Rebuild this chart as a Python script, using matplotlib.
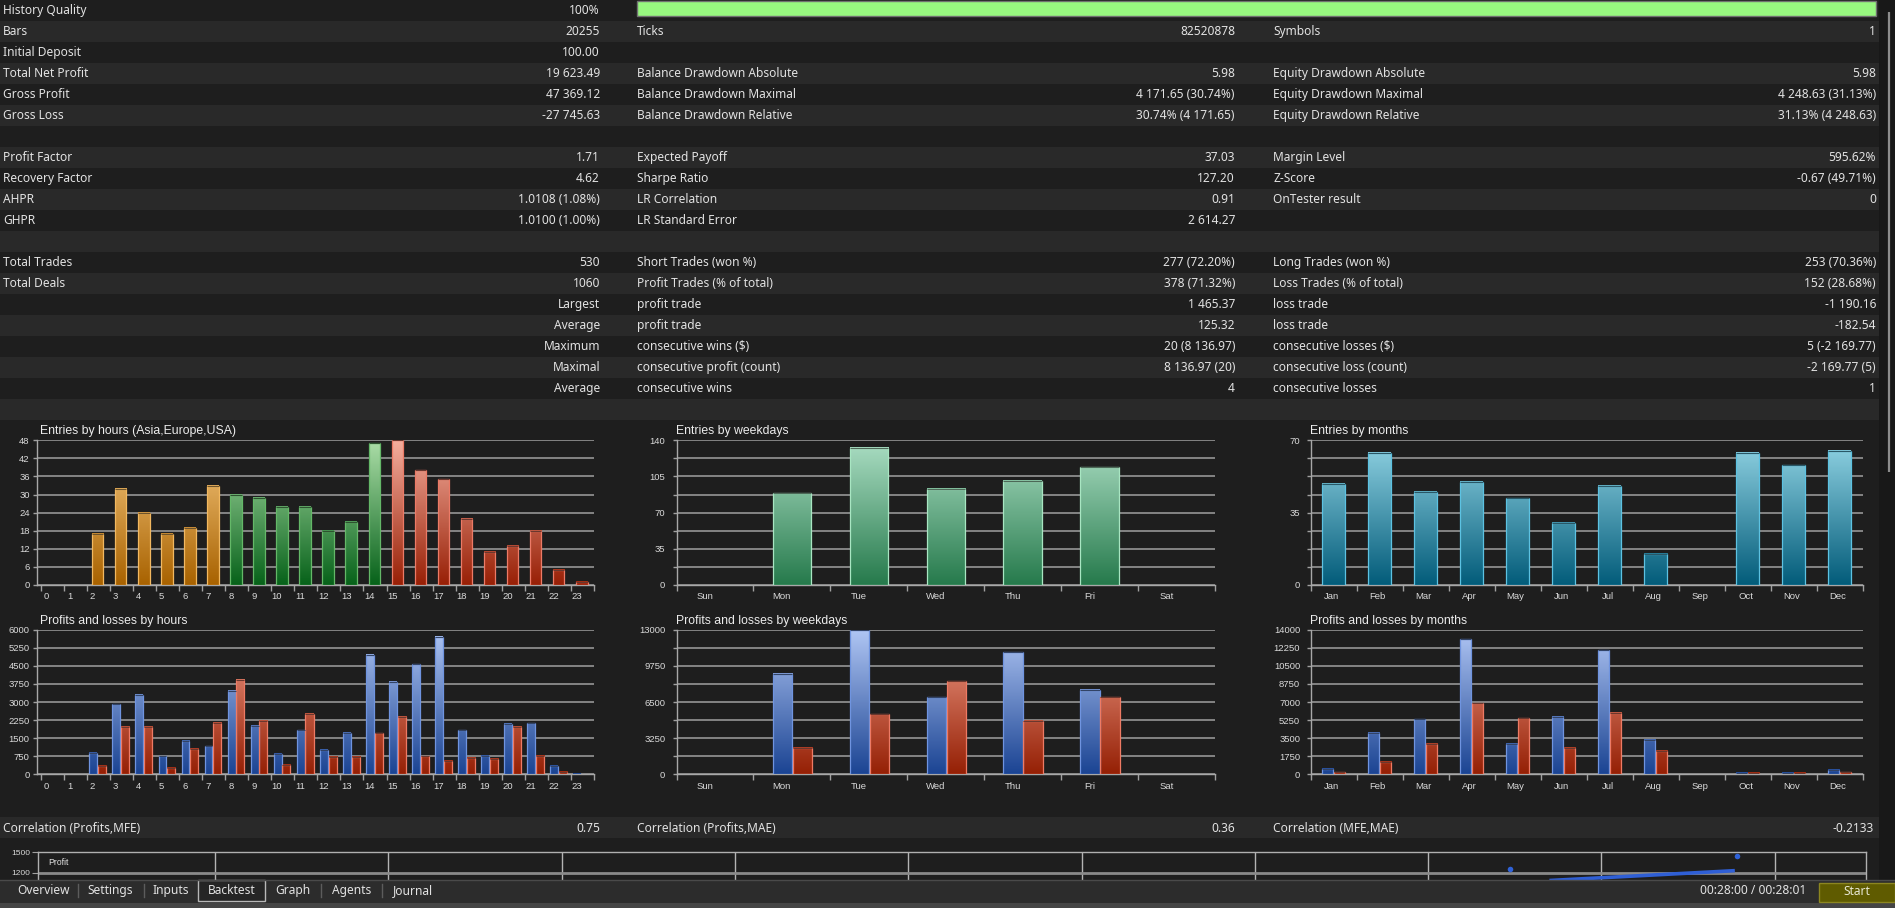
import numpy as np
import matplotlib
matplotlib.use("Agg")
import matplotlib.pyplot as plt
from matplotlib.colors import LinearSegmentedColormap, to_rgb
from matplotlib.patches import Rectangle

W, H = 1895, 908

# report table: three label/value columns, one entry per row
col1_labels = ["History Quality", "Bars", "Initial Deposit", "Total Net Profit", "Gross Profit",
               "Gross Loss", "", "Profit Factor", "Recovery Factor", "AHPR", "GHPR", "",
               "Total Trades", "Total Deals", "", "", "", "", ""]
col1_values = ["100%", "20255", "100.00", "19 623.49", "47 369.12", "-27 745.63", "", "1.71",
               "4.62", "1.0108 (1.08%)", "1.0100 (1.00%)", "", "530", "1060", "Largest",
               "Average", "Maximum", "Maximal", "Average"]
col2_labels = ["", "Ticks", "", "Balance Drawdown Absolute", "Balance Drawdown Maximal",
               "Balance Drawdown Relative", "", "Expected Payoff", "Sharpe Ratio",
               "LR Correlation", "LR Standard Error", "", "Short Trades (won %)",
               "Profit Trades (% of total)", "profit trade", "profit trade",
               "consecutive wins ($)", "consecutive profit (count)", "consecutive wins"]
col2_values = ["", "82520878", "", "5.98", "4 171.65 (30.74%)", "30.74% (4 171.65)", "",
               "37.03", "127.20", "0.91", "2 614.27", "", "277 (72.20%)", "378 (71.32%)",
               "1 465.37", "125.32", "20 (8 136.97)", "8 136.97 (20)", "4"]
col3_labels = ["", "Symbols", "", "Equity Drawdown Absolute", "Equity Drawdown Maximal",
               "Equity Drawdown Relative", "", "Margin Level", "Z-Score", "OnTester result",
               "", "", "Long Trades (won %)", "Loss Trades (% of total)", "loss trade",
               "loss trade", "consecutive losses ($)", "consecutive loss (count)",
               "consecutive losses"]
col3_values = ["", "1", "", "5.98", "4 248.63 (31.13%)", "31.13% (4 248.63)", "", "595.62%",
               "-0.67 (49.71%)", "0", "", "", "253 (70.36%)", "152 (28.68%)", "-1 190.16",
               "-182.54", "5 (-2 169.77)", "-2 169.77 (5)", "1"]
history_quality = 100

# charts
hour_labels = [str(h) for h in range(24)]
hour_session = ["Asia"] * 8 + ["Europe"] * 7 + ["USA"] * 9
entries_hours = [0, 0, 17, 32, 24, 17, 19, 33, 30, 29, 26, 26, 18, 21, 47, 48, 38, 35, 22,
                 11, 13, 18, 5, 1]
profit_hours = [0, 0, 900, 2900, 3290, 745, 1370, 1160, 3445, 2020, 845, 1825, 1025, 1715,
                4950, 3840, 4560, 5700, 1825, 775, 2100, 2115, 335, 30]
loss_hours = [0, 0, 345, 1975, 1975, 260, 1050, 2145, 3910, 2200, 400, 2490, 720, 720, 1700,
              2380, 745, 540, 665, 635, 1975, 775, 100, 0]

day_labels = ["Sun", "Mon", "Tue", "Wed", "Thu", "Fri", "Sat"]
entries_days = [0, 89, 133, 93, 101, 114, 0]
profit_days = [0, 9000, 13000, 6920, 10960, 7600, 0]
loss_days = [0, 2340, 5390, 8350, 4820, 6920, 0]

month_labels = ["Jan", "Feb", "Mar", "Apr", "May", "Jun", "Jul", "Aug", "Sep", "Oct", "Nov", "Dec"]
entries_months = [49, 64, 45, 50, 42, 30, 48, 15, 0, 64, 58, 65]
profit_months = [550, 4030, 5320, 13060, 2970, 5550, 12000, 3320, 0, 100, 160, 450]
loss_months = [190, 1230, 2970, 6870, 5420, 2580, 5970, 2260, 0, 100, 100, 190]

corr_labels = ["Correlation (Profits,MFE)", "Correlation (Profits,MAE)", "Correlation (MFE,MAE)"]
corr_values = ["0.75", "0.36", "-0.2133"]

# small profit chart, mostly hidden behind the tab bar
mini_dots_x = [7.47, 8.78]
mini_dots_y = [1253, 1451]
mini_line_x = [7.70, 8.77]
mini_line_y = [1085, 1230]

tab_names = ["Overview", "Settings", "Inputs", "Backtest", "Graph", "Agents", "Journal"]
active_tab = "Backtest"
timer_text = "00:28:00 / 00:28:01"

BG = "#1e1e1e"
ROW_LIGHT = "#292929"
TXT = "#e2e2e2"
GRID = "#848484"
UI_FONT = ["Noto Sans", "DejaVu Sans"]
CH_FONT = ["Liberation Sans", "DejaVu Sans"]


def cmap(lo, hi):
    return LinearSegmentedColormap.from_list("", [lo, hi])


SESSION = {
    "Asia": (cmap("#a86200", "#f8ca82"), "#f2b860"),
    "Europe": (cmap("#07621a", "#acdea8"), "#64b868"),
    "USA": (cmap("#982006", "#f4ae9e"), "#ec7a66"),
}
WEEK_GREEN = (cmap("#267a4c", "#acdec4"), "#a8e6c2")
MONTH_BLUE = (cmap("#035c7a", "#92d4e4"), "#5cc2e2")
PROFIT = (cmap("#1b4493", "#b0c6f4"), "#6f94e0")
LOSS = (cmap("#952005", "#f3a08c"), "#ee7a64")

fig = plt.figure(figsize=(W / 100, H / 100), dpi=100)
fig.patch.set_facecolor(BG)


def px_axes(x0, y0, x1, y1, z=1):
    return fig.add_axes([x0 / W, 1 - y1 / H, (x1 - x0) / W, (y1 - y0) / H], zorder=z)


bg = px_axes(0, 0, W, H, z=0)
bg.set_xlim(0, W)
bg.set_ylim(H, 0)
bg.axis("off")

# --- table ---
ROW_H = 21
for i in range(20):
    bg.add_patch(Rectangle((0, i * ROW_H), 1879, ROW_H, color=ROW_LIGHT if i % 2 else BG, lw=0))

columns = [(3, 600, col1_labels, col1_values), (637, 1235, col2_labels, col2_values),
           (1273, 1876, col3_labels, col3_values)]
for lx, vx, labels, values in columns:
    for i, (lab, val) in enumerate(zip(labels, values)):
        y = i * ROW_H + 10.5
        if lab:
            bg.text(lx, y, lab, color=TXT, fontsize=8.6, family=UI_FONT, va="center", ha="left")
        if val:
            bg.text(vx, y, val, color=TXT, fontsize=8.6, family=UI_FONT, va="center", ha="right")

bg.add_patch(Rectangle((637, 1), (1876 - 637) * history_quality / 100, 15,
                       facecolor="#97f77f", edgecolor="#707070", lw=1))

# correlation row
bg.add_patch(Rectangle((0, 817), 1879, 21, color=ROW_LIGHT, lw=0))
for (lx, vx), lab, val in zip([(3, 600), (637, 1235), (1273, 1874)], corr_labels, corr_values):
    bg.text(lx, 828, lab, color=TXT, fontsize=8.6, family=UI_FONT, va="center")
    bg.text(vx, 828, val, color=TXT, fontsize=8.6, family=UI_FONT, va="center", ha="right")


def grad_bar(ax, xc, h, w, style, ymax):
    if h <= 0:
        return
    cm, edge = style
    grad = np.linspace(0, h / ymax, 128).reshape(-1, 1)
    ax.imshow(grad, extent=(xc - w / 2, xc + w / 2, 0, h), origin="lower", cmap=cm,
              vmin=0, vmax=1, aspect="auto", interpolation="bilinear", zorder=3)
    ax.add_patch(Rectangle((xc - w / 2, 0), w, h, fill=False, edgecolor=edge, lw=0.9, zorder=4))
    # thin darker cap on top of each bar
    dark = tuple(c * 0.45 for c in to_rgb(edge))
    ax.plot([xc - w / 2, xc + w / 2], [h, h], color=dark, lw=0.8, zorder=5,
            solid_capstyle="butt")


def bar_chart(layout, title, labels, ymax, grid_step, label_step, lab_off, bars):
    axis_x, cat_x0, cat_x1, y_top, y_bot = layout
    n = len(labels)
    cw = (cat_x1 - cat_x0) / n
    ax = px_axes(axis_x, y_top, cat_x1, y_bot)
    ax.set_facecolor("none")
    for values, off, width, styles in bars:
        for i, v in enumerate(values):
            grad_bar(ax, i + off, v, width, styles[i], ymax)
    ax.set_xlim(-0.5 - (cat_x0 - axis_x) / cw, n - 0.5)
    ax.set_ylim(0, ymax)

    grid = np.arange(0, ymax + grid_step / 2, grid_step)
    ax.set_yticks(grid)
    ax.set_yticklabels([f"{int(round(g))}" if abs(g / label_step - round(g / label_step)) < 1e-6
                        else "" for g in grid])
    ax.yaxis.grid(True, color=GRID, lw=1.4)
    ax.set_axisbelow(True)
    gap = 6 if axis_x < cat_x0 else 10
    ax.tick_params(axis="y", length=3, width=1, color="#a0a0a0", pad=(gap - 3) * 0.72,
                   labelsize=6.8, labelcolor="#dadada")

    ax.set_xticks(np.arange(n + 1) - 0.5)
    ax.set_xticklabels([])
    ax.set_xticks(np.arange(n) + lab_off, minor=True)
    ax.set_xticklabels(labels, minor=True)
    ax.tick_params(axis="x", which="major", length=4.5, width=1, color="#a0a0a0")
    ax.tick_params(axis="x", which="minor", length=0, pad=5.2, labelsize=6.8,
                   labelcolor="#dadada")
    for lab in ax.get_xticklabels(minor=True) + ax.get_yticklabels():
        lab.set_family(CH_FONT)

    for side in ("top", "right"):
        ax.spines[side].set_visible(False)
    for side in ("left", "bottom"):
        ax.spines[side].set_color("#a8a8a8")
        ax.spines[side].set_linewidth(1)
    bg.text(cat_x0 - 1, y_top - 9, title, color="#ececec", fontsize=8.8, family=CH_FONT,
            va="center", ha="left")
    return ax


L_TOP, L_BOT = (440.3, 585), (629.7, 774.3)
X_HOURS, X_DAYS, X_MONTHS = (36.8, 40.7, 594), (676.5, 676.5, 1215), (1311.4, 1311.4, 1863.4)

session_styles = [SESSION[s] for s in hour_session]
bar_chart(X_HOURS + L_TOP, "Entries by hours (Asia,Europe,USA)", hour_labels, 48, 6, 6, -0.25,
          [(entries_hours, -0.03, 0.5, session_styles)])
bar_chart(X_HOURS + L_BOT, "Profits and losses by hours", hour_labels, 6000, 750, 750, -0.25,
          [(profit_hours, -0.22, 0.34, [PROFIT] * 24), (loss_hours, 0.16, 0.35, [LOSS] * 24)])
bar_chart(X_DAYS + L_TOP, "Entries by weekdays", day_labels, 140, 17.5, 35, -0.13,
          [(entries_days, 0, 0.5, [WEEK_GREEN] * 7)])
bar_chart(X_DAYS + L_BOT, "Profits and losses by weekdays", day_labels, 13000, 1625, 3250, -0.13,
          [(profit_days, -0.125, 0.25, [PROFIT] * 7), (loss_days, 0.135, 0.25, [LOSS] * 7)])
bar_chart(X_MONTHS + L_TOP, "Entries by months", month_labels, 70, 8.75, 35, -0.06,
          [(entries_months, -0.01, 0.5, [MONTH_BLUE] * 12)])
bar_chart(X_MONTHS + L_BOT, "Profits and losses by months", month_labels, 14000, 1750, 1750, -0.06,
          [(profit_months, -0.14, 0.24, [PROFIT] * 12), (loss_months, 0.12, 0.24, [LOSS] * 12)])

# --- small profit chart (cut by the tab bar) ---
mx0, mx1 = 37.6, 1865.6
mini = px_axes(mx0, 852.3, mx1, 880, z=1)
mini.set_facecolor("none")
mini.plot(mini_line_x, mini_line_y, color="#2f5fd6", lw=2.6, solid_capstyle="butt", zorder=4)
mini.scatter(mini_dots_x, mini_dots_y, s=16, color="#2f62d8", zorder=5, lw=0)
mini.set_xlim(-(215 - mx0) / 173.3, (mx1 - 215) / 173.3)
mini.set_ylim(1500 - 300 * (880 - 852.3) / 20.4, 1500)
mini.set_xticks(np.arange(0, 10))
mini.set_xticklabels([])
mini.tick_params(axis="x", length=0)
mini.xaxis.grid(True, color="#b4b4b4", lw=1)
mini.axhline(1200, color="#8a8a8a", lw=2, zorder=2)
mini.set_yticks([1200, 1500])
mini.set_yticklabels(["1200", "1500"], family=CH_FONT)
mini.tick_params(axis="y", length=4, color="#a0a0a0", labelsize=6.0, labelcolor="#d8d8d8", pad=1.5)
mini.spines["bottom"].set_visible(False)
for side in ("top", "left", "right"):
    mini.spines[side].set_color("#b0b0b0")
    mini.spines[side].set_linewidth(1)
mini.text(0.006, 0.62, "Profit", transform=mini.transAxes, color="#e0e0e0", fontsize=6.2,
          family=CH_FONT, va="center")

# --- overlay: scrollbar, tab bar, status ---
top = px_axes(0, 0, W, H, z=5)
top.set_xlim(0, W)
top.set_ylim(H, 0)
top.axis("off")
top.patch.set_alpha(0)

top.add_patch(Rectangle((1879, 0), 16, 880, color="#181818", lw=0))
top.plot([1888.5, 1888.5], [12, 472], color="#8c8c8c", lw=1.6, solid_capstyle="butt")

top.add_patch(Rectangle((0, 879.5), W, 23, color="#2c2c2c", lw=0))
top.plot([0, W], [879.5, 879.5], color="#4a4a4a", lw=1)
top.add_patch(Rectangle((0, 902.5), W, 6, color="#454545", lw=0))

tab_edges = [6, 77.6, 143.6, 198, 265, 321, 382, 443]
for i, name in enumerate(tab_names):
    x0, x1 = tab_edges[i], tab_edges[i + 1]
    if name == active_tab:
        top.add_patch(Rectangle((x0, 879.5), x1 - x0, 21, facecolor="#252525",
                                edgecolor="#b8b8b8", lw=1))
    elif i > 0 and tab_names[i - 1] != active_tab:
        top.plot([x0, x0], [884, 897], color="#5c5c5c", lw=1)
    top.text((x0 + x1) / 2 + (2 if i == 0 else 0), 890.5, name, color=TXT, fontsize=8.6,
             family=UI_FONT, ha="center", va="center")

top.text(1806, 891, timer_text, color=TXT, fontsize=8.6, family=UI_FONT, ha="right", va="center")
top.add_patch(Rectangle((1818.5, 882.5), 76, 19, facecolor="#5f5b00", edgecolor="#8c8620", lw=1))
top.text(1857, 891.5, "Start", color="#e6e6d2", fontsize=8.6, family=UI_FONT,
         ha="center", va="center")

fig.savefig("out.png", dpi=100, facecolor=BG)
